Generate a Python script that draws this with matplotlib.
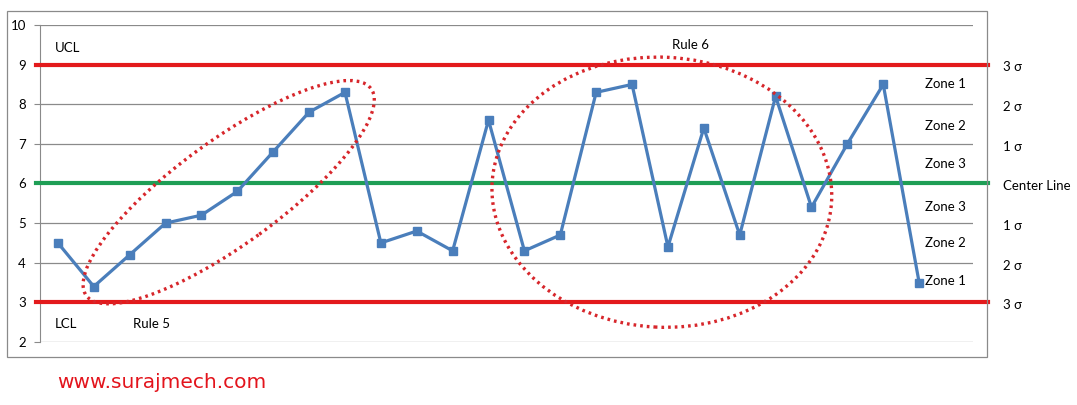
import matplotlib.pyplot as plt
from matplotlib.patches import Ellipse, Rectangle
from matplotlib import transforms

# data
samples = list(range(1, 26))
values = [4.5, 3.4, 4.2, 5.0, 5.2, 5.8, 6.8, 7.8, 8.3, 4.5, 4.8, 4.3, 7.6,
          4.3, 4.7, 8.3, 8.5, 4.4, 7.4, 4.7, 8.2, 5.4, 7.0, 8.5, 3.5]
ucl, center, lcl = 9, 6, 3
yticks = [2, 3, 4, 5, 6, 7, 8, 9, 10]
zone_labels = ['Zone 1', 'Zone 2', 'Zone 3', 'Zone 3', 'Zone 2', 'Zone 1']
zone_y = [8.5, 7.45, 6.5, 5.4, 4.5, 3.55]
sigma_labels = ['3 σ', '2 σ', '1 σ', 'Center Line', '1 σ', '2 σ', '3 σ']
sigma_y = [9, 8, 7, 6, 5, 4, 3]

plt.rcParams['font.family'] = ['Lato', 'DejaVu Sans']
fig = plt.figure(figsize=(10.77, 4.05), dpi=100)
ax = fig.add_axes([0.0371, 0.1556, 0.8663, 0.7827])

grid_col = '#8a8a8a'
ax.set_xlim(0.5, 26.5)
ax.set_ylim(2, 10)
ax.set_yticks(yticks)
ax.set_xticks([])
for y in yticks:
    ax.axhline(y, color=grid_col, lw=0.9, zorder=1)
for s in ['top', 'right', 'bottom']:
    ax.spines[s].set_visible(False)
ax.spines['left'].set_color(grid_col)
ax.tick_params(axis='y', length=4, color=grid_col, labelsize=9.5, pad=6)

# control lines stretch past the plot area to the chart border
ytrans = ax.get_yaxis_transform()
ax.plot([-0.004, 1.016], [ucl, ucl], color='#e31a1c', lw=3, transform=ytrans, clip_on=False, zorder=3)
ax.plot([-0.004, 1.016], [lcl, lcl], color='#e31a1c', lw=3, transform=ytrans, clip_on=False, zorder=3)
ax.plot([-0.004, 1.016], [center, center], color='#1e9e55', lw=3, transform=ytrans, clip_on=False, zorder=3)

ax.plot(samples, values, color='#4a7ebb', lw=2.3, marker='s', markersize=5.5, zorder=4)

# dotted ellipses (size in pixels, anchored at data point)
def ring(cx, cy, w, h, angle):
    tr = fig.dpi_scale_trans + transforms.ScaledTranslation(cx, cy, ax.transData)
    e = Ellipse((0, 0), w / 100, h / 100, angle=angle, fill=False, edgecolor='#d7262b',
                lw=2.4, linestyle=(0, (0.8, 1.2)), transform=tr, zorder=5)
    ax.add_patch(e)

ring(5.76, 5.78, 352, 104, 36)
ring(17.83, 5.78, 340, 270, -3)

ax.text(0.92, 9.42, 'UCL', fontsize=9.5, va='center')
ax.text(0.92, 2.45, 'LCL', fontsize=9.5, va='center')
ax.text(3.09, 2.45, 'Rule 5', fontsize=9.5, va='center')
ax.text(18.1, 9.5, 'Rule 6', fontsize=9.5, va='center')
for lab, y in zip(zone_labels, zone_y):
    ax.text(25.15, y, lab, fontsize=9.5, va='center', ha='left')
for lab, y in zip(sigma_labels, sigma_y):
    ax.text(1.032, y - 0.07, lab, fontsize=9.5, va='center', ha='left', transform=ytrans)

# chart border
fig.patches.append(Rectangle((7 / 1077, 48 / 405), 980 / 1077, 346 / 405, fill=False,
                             edgecolor=grid_col, lw=0.9, transform=fig.transFigure))

fig.text(57 / 1077, 1 - 382 / 405, 'www.surajmech.com', color='#e3141c', fontsize=14.5,
         family='DejaVu Sans', va='center')

fig.savefig('out.png', dpi=100)
